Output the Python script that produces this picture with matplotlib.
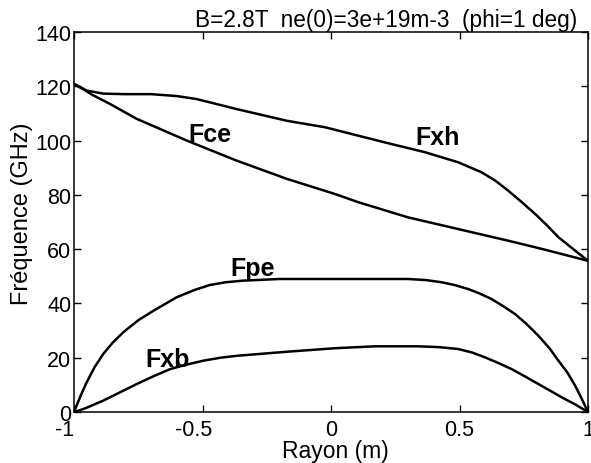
import matplotlib
matplotlib.use("Agg")
import matplotlib.pyplot as plt
import matplotlib.transforms as mtransforms

# Electron cyclotron (Fce), upper hybrid (Fxh), plasma (Fpe) and
# lower X-mode cutoff (Fxb) frequencies across the minor radius.
r_fce = [-1.0, -0.96, -0.93, -0.86, -0.756, -0.561, -0.367, -0.172, 0.016,
         0.106, 0.30, 0.495, 0.69, 0.82, 1.0]
fce = [120.8, 118.7, 116.9, 113.5, 108.0, 100.0, 92.6, 85.9, 80.3,
       77.3, 71.7, 67.4, 63.1, 60.1, 55.7]

r_fxh = [-1.0, -0.95, -0.886, -0.8, -0.70, -0.6, -0.523, -0.367, -0.172,
         -0.023, 0.106, 0.236, 0.366, 0.495, 0.586, 0.64, 0.69, 0.74, 0.794,
         0.84, 0.885, 0.94, 1.0]
fxh = [120.9, 118.4, 117.3, 117.1, 117.1, 116.4, 115.3, 111.6, 107.3,
       104.9, 101.8, 98.7, 95.7, 92.0, 88.3, 85.2, 81.5, 77.5, 73.0,
       68.8, 64.4, 60.2, 55.7]

r_fpe = [-1.0, -0.975, -0.951, -0.92, -0.886, -0.85, -0.808, -0.75, -0.691,
         -0.60, -0.53, -0.471, -0.41, -0.341, -0.2, 0.0, 0.30, 0.37, 0.43,
         0.48, 0.534, 0.58, 0.625, 0.67, 0.716, 0.76, 0.807, 0.85, 0.885,
         0.92, 0.95, 0.975, 1.0]
fpe = [0.0, 5.8, 10.9, 16.5, 21.4, 25.5, 29.4, 33.8, 37.3,
       42.3, 45.0, 46.8, 47.8, 48.4, 49.0, 49.0, 49.0, 48.6, 47.8,
       46.8, 45.3, 43.6, 41.6, 39.0, 36.1, 32.5, 28.1, 23.5, 18.9,
       14.5, 9.7, 5.0, 0.0]

r_fxb = [-1.0, -0.97, -0.95, -0.886, -0.82, -0.756, -0.69, -0.626, -0.56,
         -0.497, -0.43, -0.367, -0.172, 0.016, 0.171, 0.34, 0.42, 0.495,
         0.55, 0.60, 0.65, 0.703, 0.755, 0.807, 0.85, 0.898, 0.95, 1.0]
fxb = [0.0, 0.9, 1.6, 4.2, 7.3, 10.3, 13.2, 15.8, 17.5,
       18.9, 20.0, 20.7, 22.2, 23.5, 24.2, 24.2, 23.9, 23.2,
       21.9, 20.1, 18.1, 15.8, 13.1, 10.3, 8.0, 5.4, 2.8, 0.0]

x_ticks = [-1, -0.5, 0, 0.5, 1]
x_tick_labels = ["-1", "-0.5", "0", "0.5", "1"]
y_ticks = [0, 20, 40, 60, 80, 100, 120, 140]

curve_labels = ["Fce", "Fxh", "Fpe", "Fxb"]
curve_label_pos = [(-0.47, 100.0), (0.414, 98.7), (-0.305, 50.3), (-0.636, 17.1)]

title = "B=2.8T  ne(0)=3e+19m-3  (phi=1 deg)"

plt.rcParams["font.family"] = ["Liberation Sans", "DejaVu Sans"]

fig = plt.figure(figsize=(5.91, 4.64), dpi=100)
ax = fig.add_axes([74 / 591, 51 / 464, 514 / 591, 380 / 464])

lw = 1.8
for r, f in [(r_fce, fce), (r_fxh, fxh), (r_fpe, fpe), (r_fxb, fxb)]:
    ax.plot(r, f, color="black", lw=lw, solid_joinstyle="round")

for name, (x, y) in zip(curve_labels, curve_label_pos):
    ax.text(x, y, name, fontsize=18, fontweight="bold", ha="center",
            va="baseline")

ax.set_xlim(-1, 1)
ax.set_ylim(0, 140)
ax.set_xticks(x_ticks)
ax.set_xticklabels(x_tick_labels)
ax.set_yticks(y_ticks)
ax.tick_params(direction="in", top=True, right=True, length=5, width=1,
               labelsize=15.5)
ax.tick_params(axis="x", pad=5)
ax.tick_params(axis="y", pad=2)
for s in ax.spines.values():
    s.set_linewidth(1.1)

# negative tick labels sit slightly left of their ticks
shift = mtransforms.ScaledTranslation(-9 / 100, 0, fig.dpi_scale_trans)
for lab in ax.get_xticklabels():
    if lab.get_text().startswith("-"):
        lab.set_transform(lab.get_transform() + shift)

ax.set_xlabel("Rayon (m)", fontsize=16.5)
ax.xaxis.set_label_coords(0.508, -0.070)
ax.set_ylabel("Fréquence (GHz)", fontsize=17)
ax.yaxis.set_label_coords(-0.080, 0.524)

ax.text(0.9786, 1.015, title, transform=ax.transAxes, fontsize=16.3,
        ha="right", va="baseline")

fig.savefig("out.png", dpi=100)
